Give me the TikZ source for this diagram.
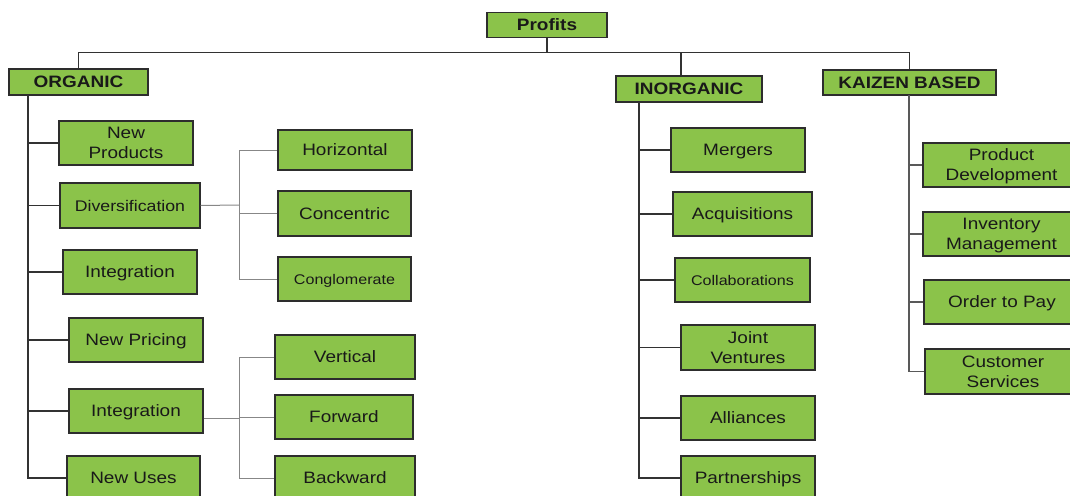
\documentclass[tikz,border=0pt]{standalone}
\usepackage{fontspec}
\setmainfont{Liberation Sans}[FakeStretch=1.15]
\usetikzlibrary{positioning}
\definecolor{leafgreen}{RGB}{139,195,74}
\definecolor{boxline}{RGB}{45,45,45}
\definecolor{linkdark}{RGB}{50,50,50}
\definecolor{linkgray}{RGB}{135,135,135}
\tikzset{
    box/.style = {rectangle, line width=1.2pt, draw=boxline, fill=leafgreen, align=center,
                  text=black!90, minimum width=134pt, minimum height=44pt, inner sep=1pt,
                  text depth=0pt, font=\fontsize{16.5}{20}\selectfont},
    headbox/.style = {box, minimum height=26pt, font=\fontsize{16.5}{20}\selectfont\bfseries},
    smallbox/.style = {box, font=\fontsize{14}{17}\selectfont},
    link/.style = {line width=1.1pt, draw=linkdark},
    sublink/.style = {line width=1pt, draw=linkgray}
}
\begin{document}
\begin{tikzpicture}[x=1pt,y=-1pt]
\path[use as bounding box] (0,0) rectangle (1070,495);
\clip (0,0) rectangle (1070,495);
%
\node[headbox, minimum width=120pt, minimum height=25pt] at (547,25) (prof) {Profits};
\node[headbox, minimum width=139pt] at (78.5,82) (org) {ORGANIC};
\node[headbox, minimum width=146pt] at (689,89) (inorg) {INORGANIC};
\node[headbox, minimum width=173pt, minimum height=25pt] at (909.5,82.5) (kai) {KAIZEN BASED};
%
\coordinate (bus) at (547,53);
\coordinate (ib) at (681,53);
\draw[link] (org.north) -- ++(0,-16) -| (kai.north);
\draw[link] (prof.south) -- (bus);
\draw[link] (ib) -- (ib |- inorg.north);
%
% organic
\node[box] at (126,143) (np) {New\\Products};
\node[box, minimum width=140pt, minimum height=45pt, font=\fontsize{15.4}{19}\selectfont] at (130,205.5) (div) {Diversification};
\node[box] at (130,272) (int) {Integration};
\node[box] at (136,340) (npr) {New Pricing};
\node[box] at (136,411) (intb) {Integration};
\node[box, minimum width=133pt] at (133.5,478) (nu) {New Uses};
%
\coordinate (ot) at (28,95);
\foreach \c in {np,div,int,npr,intb,nu}
    \draw[link] (ot) |- (\c.west);
%
\node[box, minimum height=40pt] at (345,150) (hor) {Horizontal};
\node[box, minimum width=133pt, minimum height=45pt] at (344.5,213.5) (con) {Concentric};
\node[smallbox, minimum width=133pt] at (344.5,279) (cong) {Conglomerate};
%
\coordinate (dt) at (239,205);
\draw[sublink] (div.east) -- (dt);
\foreach \c in {hor,con,cong}
    \draw[sublink] (dt) |- (\c.west);
%
\node[box, minimum width=140pt] at (345,357) (ver) {Vertical};
\node[box, minimum width=138pt] at (344,417) (fwd) {Forward};
\node[box, minimum width=140pt] at (345,478) (bwd) {Backward};
%
\coordinate (it) at (239,418);
\draw[sublink] (intb.east |- it) -- (it);
\foreach \c in {ver,fwd,bwd}
    \draw[sublink] (it) |- (\c.west);
%
% inorganic
\node[box] at (738,150) (mer) {Mergers};
\node[box, minimum width=139pt] at (742.5,214) (acq) {Acquisitions};
\node[smallbox, minimum width=135pt] at (742.5,280) (col) {Collaborations};
\node[box, minimum height=45pt] at (748,347.5) (jv) {Joint\\Ventures};
\node[box] at (748,418) (all) {Alliances};
\node[box] at (748,478) (par) {Partnerships};
%
\coordinate (itk) at (639,102);
\foreach \c in {mer,acq,col,jv,all,par}
    \draw[link] (itk) |- (\c.west);
%
% kaizen
\node[box, minimum width=157pt] at (1001.5,165) (pd) {Product\\Development};
\node[box, minimum width=157pt] at (1001.5,234) (im) {Inventory\\Management};
\node[box, minimum width=156pt] at (1002,302) (otp) {Order to Pay};
\node[box, minimum width=156pt, minimum height=45pt] at (1003,371.5) (cs) {Customer\\Services};
%
\coordinate (ktk) at (909,95);
\foreach \c in {pd,im,otp,cs}
    \draw[link, draw=black!65] (ktk) |- (\c.west);

\end{tikzpicture}
\end{document}
